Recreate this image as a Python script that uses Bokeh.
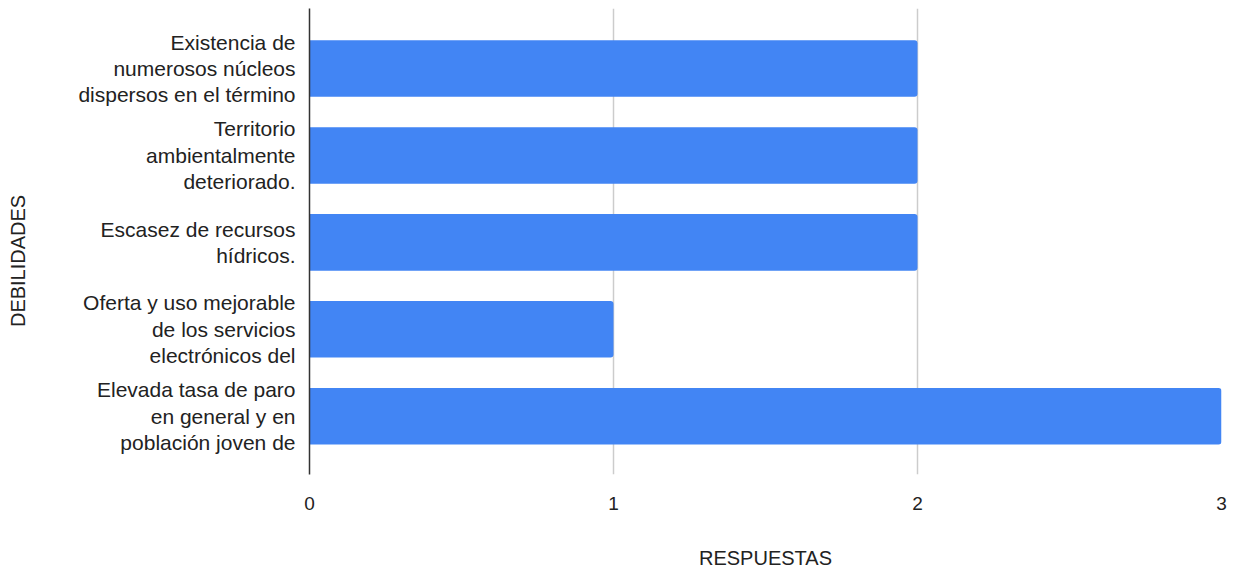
from bokeh.plotting import figure
from bokeh.models import FixedTicker, Range1d, ColumnDataSource
from bokeh.embed import file_html
from bokeh.resources import INLINE

categories = [
    "Existencia de\nnumerosos núcleos\ndispersos en el término",
    "Territorio\nambientalmente\ndeteriorado.",
    "Escasez de recursos\nhídricos.",
    "Oferta y uso mejorable\nde los servicios\nelectrónicos del",
    "Elevada tasa de paro\nen general y en\npoblación joven de",
]
values = [2, 2, 2, 1, 3]
x_ticks = [0, 1, 2, 3]
x_title = "RESPUESTAS"
y_title = "DEBILIDADES"

n = len(categories)
ypos = [n - 1 - i for i in range(n)]
src = ColumnDataSource(dict(y=ypos, v=values, name=categories))

FONT = "Liberation Sans"

p = figure(width=1239, height=571, output_backend="svg", toolbar_location=None,
           x_range=Range1d(0, 3), y_range=Range1d(-0.67, n - 1 + 0.69),
           min_border_left=309, min_border_right=18, min_border_top=8,
           min_border_bottom=97)
p.outline_line_color = None

p.hbar(y="y", right="v", left=0, height=0.65, source=src, color="#4285F4",
       line_color=None, border_radius=(0, 3, 3, 0))

# x axis
p.xaxis.ticker = FixedTicker(ticks=x_ticks)
p.xaxis.axis_line_color = None
p.xaxis.major_tick_line_color = None
p.xaxis.minor_tick_line_color = None
p.xaxis.major_label_standoff = 16
p.xaxis.major_label_text_font = FONT
p.xaxis.major_label_text_font_size = "19px"
p.xaxis.major_label_text_color = "#222222"
p.xaxis.axis_label = x_title
p.xaxis.axis_label_text_font = FONT
p.xaxis.axis_label_text_font_size = "20px"
p.xaxis.axis_label_text_font_style = "normal"
p.xaxis.axis_label_text_color = "#222222"
p.xaxis.axis_label_standoff = 34

# y axis
p.yaxis.ticker = FixedTicker(ticks=ypos)
p.yaxis.major_label_overrides = {yv: c for yv, c in zip(ypos, categories)}
p.yaxis.axis_line_color = "#333333"
p.yaxis.axis_line_width = 1.5
p.yaxis.major_tick_line_color = None
p.yaxis.minor_tick_line_color = None
p.yaxis.major_label_standoff = 8
p.yaxis.major_label_text_font = FONT
p.yaxis.major_label_text_font_size = "21px"
p.yaxis.major_label_text_color = "#222222"
p.yaxis.major_label_text_line_height = 1.15
# axis title; trailing no-break spaces shift the visible text down a little
p.yaxis.axis_label = y_title + "\u00a0" * 7
p.yaxis.axis_label_text_font = FONT
p.yaxis.axis_label_text_font_size = "20px"
p.yaxis.axis_label_text_font_style = "normal"
p.yaxis.axis_label_text_color = "#222222"
p.yaxis.axis_label_standoff = 46

# grid
p.xgrid.grid_line_color = "#cccccc"
p.xgrid.grid_line_width = 1.5
p.ygrid.grid_line_color = None

open("out.html", "w").write(file_html(p, INLINE))
